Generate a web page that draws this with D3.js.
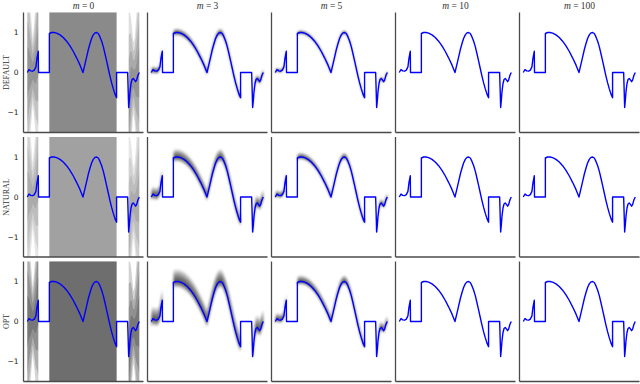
<!DOCTYPE html>
<html><head><meta charset="utf-8">
<script src="https://cdn.jsdelivr.net/npm/d3@7"></script>
<style>body{margin:0;background:#fff}svg{display:block}</style>
</head><body><svg id="c" width="640" height="384"></svg>
<script>
// ---------- data ----------
const columnLabels = ["0", "3", "5", "10", "100"];
const rowLabels = ["DEFAULT", "NATURAL", "OPT"];
const yTickValues = [1, 0, -1];
const yTickLabels = ["1", "0", "\u22121"];

// target function, in pieces (t in [0,1])
const pieceA = [[0,0],[0.015,0.075],[0.03,0.04],[0.048,0.033],[0.0625,0.058],[0.077,0.14],[0.086,0.35],[0.098,0.53]];
const pieceB = [[0.1,0],[0.197,0]];
const pieceC = [[0.197,0.975],[0.217,1.0],[0.238,1.0],[0.262,0.983],[0.292,0.94],[0.321,0.875],[0.351,0.783],[0.381,0.667],[0.411,0.525],[0.44,0.367],[0.47,0.19],[0.497,0],[0.515,0.21],[0.53,0.39],[0.545,0.575],[0.56,0.725],[0.574,0.85],[0.589,0.94],[0.604,0.99],[0.619,1.0],[0.634,0.975],[0.649,0.89],[0.664,0.78],[0.679,0.64],[0.693,0.475],[0.708,0.29],[0.723,0.1],[0.738,-0.09],[0.753,-0.26],[0.768,-0.41],[0.783,-0.54],[0.797,-0.63]];
const pieceD = [[0.797,0],[0.896,0]];
const pieceE = [[0.905,-0.875],[0.911,-0.69],[0.917,-0.48],[0.926,-0.275],[0.935,-0.175],[0.946,-0.15],[0.958,-0.19],[0.967,-0.23],[0.976,-0.19],[0.988,-0.07],[1.0,0]];

// spread of the grey sample cloud (value units), columns m = 3, 5, 10, 100
const spreadDefault = [0.06, 0.035, 0, 0];
const spreadNatural = [0.09, 0.05, 0, 0];
const spreadOpt = [0.12, 0.06, 0, 0];
const upwardSkew = [1.3, 1.7, 2.0];
// m = 0 cloud: envelope in the two smooth end parts, and the middle part
const m0EdgeLeft = [[0,2.6],[0.05,0.75],[0.1,2.6]];
const m0EdgeRight = [[0.9,2.6],[0.95,0.75],[1.0,2.6]];
const m0Middle = 14;
const m0Density = [0.14, 0.105, 0.19];

// ---------- layout ----------
const svg = d3.select("#c");
const panelW = 120, panelH = 120;
const colX = [23.5, 147.5, 271.5, 395.5, 519.5];
const rowY = [12.5, 137, 261.5];
const x = d3.scaleLinear().domain([-0.034, 1.0375]).range([0, panelW]);
const y = d3.scaleLinear().domain([-1.5, 1.5]).range([panelH, 0]);
const kLevelsM0 = [0.25, 0.5, 0.75, 1.0];
const kLevels = [0.2, 0.4, 0.6, 0.8, 1.0, 1.25];

const defs = svg.append("defs");
defs.append("filter").attr("id", "soft").attr("x", "-10%").attr("y", "-10%")
  .attr("width", "120%").attr("height", "120%")
  .append("feGaussianBlur").attr("stdDeviation", 0.9);

const fullCurve = [].concat(pieceA, pieceB, pieceC, pieceD, pieceE);
const spreads = [spreadDefault, spreadNatural, spreadOpt];

function envelope(knots) {
  return d3.scaleLinear().domain(knots.map(k => k[0])).range(knots.map(k => k[1])).clamp(true);
}

const line = d3.line().x(d => x(d[0])).y(d => y(d[1]));
const serif = "Liberation Serif, DejaVu Serif, serif";

rowLabels.forEach((rl, r) => {
  columnLabels.forEach((cl, c) => {
    const g = svg.append("g").attr("transform", `translate(${colX[c]},${rowY[r]})`);
    const cid = `clip${r}${c}`;
    g.append("clipPath").attr("id", cid).append("rect")
      .attr("x", 0).attr("y", 0).attr("width", panelW).attr("height", panelH);
    const clipG = g.append("g").attr("clip-path", `url(#${cid})`);
    const cloud = clipG.append("g");

    let parts = [], opacity = 0.16, levels = kLevels, up = 1;
    if (c === 0) {
      parts = [[pieceA, envelope(m0EdgeLeft), 0.9], [pieceC, () => m0Middle, 1], [pieceE, envelope(m0EdgeRight), 0.9]];
      opacity = m0Density[r];
      levels = kLevelsM0;
    } else {
      const s = spreads[r][c - 1];
      if (s > 0) parts = [[pieceA, () => s, 1], [pieceC, () => s, 1], [pieceE, () => s, 1]];
      up = upwardSkew[r];
      cloud.attr("filter", "url(#soft)");
    }
    parts.forEach(([pts, sf, f]) => {
      levels.forEach(k => {
        const area = d3.area()
          .x(d => x(d[0]))
          .y0(d => y(d[1] - k * sf(d[0])))
          .y1(d => y(d[1] + k * up * sf(d[0])));
        cloud.append("path").attr("d", area(pts))
          .attr("fill", "#000").attr("fill-opacity", opacity * f);
      });
    });

    g.append("path").attr("d", line(fullCurve))
      .attr("fill", "none").attr("stroke", "#0000ff").attr("stroke-width", 1.4)
      .attr("stroke-linejoin", "round");

    // spines
    g.append("line").attr("x1", 0).attr("x2", 0).attr("y1", 0).attr("y2", panelH)
      .attr("stroke", "#4a4a4a").attr("stroke-width", 1.3);
    g.append("line").attr("x1", 0).attr("x2", panelW).attr("y1", panelH).attr("y2", panelH)
      .attr("stroke", "#4a4a4a").attr("stroke-width", 1.3);

    if (c === 0) {
      yTickValues.forEach((v, i) => {
        g.append("text").attr("x", -5).attr("y", y(v)).attr("dy", "0.35em")
          .attr("text-anchor", "end").attr("font-family", "DejaVu Sans")
          .attr("font-size", 7.5).attr("fill", "#222").text(yTickLabels[i]);
      });
      g.append("text")
        .attr("transform", `translate(-15,${panelH / 2}) rotate(-90)`)
        .attr("text-anchor", "middle").attr("font-family", serif)
        .attr("font-size", 8).attr("fill", "#333").text(rl);
    }
    if (r === 0) {
      const t = g.append("text").attr("x", panelW / 2).attr("y", -4)
        .attr("text-anchor", "middle").attr("font-family", serif)
        .attr("font-size", 9.5).attr("fill", "#333");
      t.append("tspan").attr("font-style", "italic").text("m");
      t.append("tspan").text(" = " + cl);
    }
  });
});
</script>
</body></html>
